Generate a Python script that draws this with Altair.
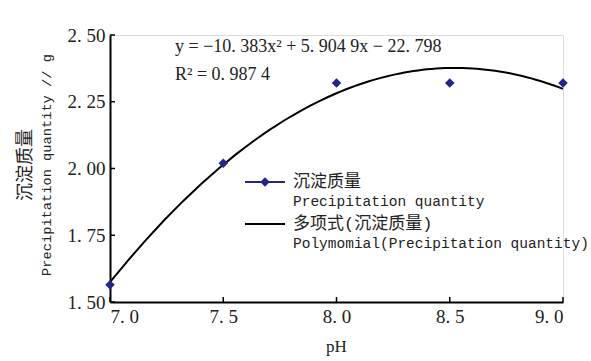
import altair as alt
import pandas as pd

# ---- data ----
ph = [7.0, 7.5, 8.0, 8.5, 9.0]
quantity = [1.565, 2.02, 2.32, 2.32, 2.32]
x_ticks = [7.0, 7.5, 8.0, 8.5, 9.0]
y_ticks = [1.50, 1.75, 2.00, 2.25, 2.50]
equation = "y = −10. 383x² + 5. 904 9x − 22. 798"
r2_text = "R² = 0. 987 4"
legend_cn = ["沉淀质量", "多项式(沉淀质量)"]
legend_en = ["Precipitation quantity", "Polymomial(Precipitation quantity)"]
y_title = ["沉淀质量", "Precipitation quantity // g"]
x_title = "pH"

W, H = 453, 267
NAVY = "#24248a"
SERIF = "Liberation Serif"
MONO = "Liberation Mono, Noto Sans CJK SC"

df = pd.DataFrame({"ph": ph, "q": quantity})
xs = alt.Scale(domain=[7.0, 9.0], nice=False, zero=False)
ys = alt.Scale(domain=[1.5, 2.5], nice=False, zero=False)

x_axis = alt.Axis(values=x_ticks, labelExpr="replace(format(datum.value,'.1f'),'.','. ')",
                  title=None, labelFont=SERIF, labelFontSize=19)
y_axis = alt.Axis(values=y_ticks, labelExpr="replace(format(datum.value,'.2f'),'.','. ')",
                  title=None, labelFont=SERIF, labelFontSize=19)

X = lambda f: alt.X(f, scale=xs, axis=x_axis)
Y = lambda f: alt.Y(f, scale=ys, axis=y_axis)

base = alt.Chart(df)
points = base.mark_point(shape="diamond", filled=True, size=90, color=NAVY, opacity=1).encode(
    x=X("ph:Q"), y=Y("q:Q"))
curve = base.transform_regression("ph", "q", method="poly", order=2, extent=[7.0, 9.0]).mark_line(
    color="black", strokeWidth=2).encode(x=X("ph:Q"), y=Y("q:Q"))

xt = alt.Chart(pd.DataFrame({"t": x_ticks})).mark_rule(color="black", strokeWidth=1.5).encode(
    x=X("t:Q"), y=alt.value(H), y2=alt.value(H - 5))
yt = alt.Chart(pd.DataFrame({"t": y_ticks})).mark_rule(color="black", strokeWidth=1.5).encode(
    y=Y("t:Q"), x=alt.value(0), x2=alt.value(5))


def txt(s, x, y, font, size, align="left", angle=0):
    kw = dict(align=align, baseline="middle", font=font, fontSize=size, color="#222")
    if angle:
        kw["angle"] = angle
    return alt.Chart(pd.DataFrame({"s": [s]})).mark_text(**kw).encode(
        text="s:N", x=alt.value(x), y=alt.value(y))


one = pd.DataFrame({"a": [0]})
leg_line1 = alt.Chart(one).mark_rule(color=NAVY, strokeWidth=2).encode(
    x=alt.value(135), x2=alt.value(175), y=alt.value(147))
leg_pt = alt.Chart(one).mark_point(shape="diamond", filled=True, size=90, color=NAVY, opacity=1).encode(
    x=alt.value(155), y=alt.value(147))
leg_line2 = alt.Chart(one).mark_rule(color="black", strokeWidth=2).encode(
    x=alt.value(135), x2=alt.value(175), y=alt.value(189))

layers = [
    curve, points, xt, yt, leg_line1, leg_pt, leg_line2,
    txt(legend_cn[0], 183, 147, MONO, 17),
    txt(legend_en[0], 183, 167, MONO, 14.5),
    txt(legend_cn[1], 183, 189, MONO, 17),
    txt(legend_en[1], 183, 209, MONO, 14.5),
    txt(equation, 65, 12, SERIF, 18),
    txt(r2_text, 65, 40, SERIF, 18),
    txt(y_title[0], -84, 130, MONO, 18, align="center", angle=270),
    txt(y_title[1], -63, 130, MONO, 13.7, align="center", angle=270),
    txt(x_title, W / 2, H + 45, SERIF, 17, align="center"),
]

chart = alt.layer(*layers).properties(
    width=W, height=H,
    autosize=alt.AutoSizeParams(type="none"),
    padding={"left": 110, "top": 35, "right": 28, "bottom": 59},
).configure_view(stroke=None).configure(background="white", font=SERIF).configure_axis(
    ticks=False, domain=True, domainColor="black", domainWidth=2, grid=False,
    labelFont=SERIF, labelFontSize=19, labelColor="#222", labelPadding=5,
)

chart.save("out.html", embed_options={"renderer": "svg", "actions": False})
